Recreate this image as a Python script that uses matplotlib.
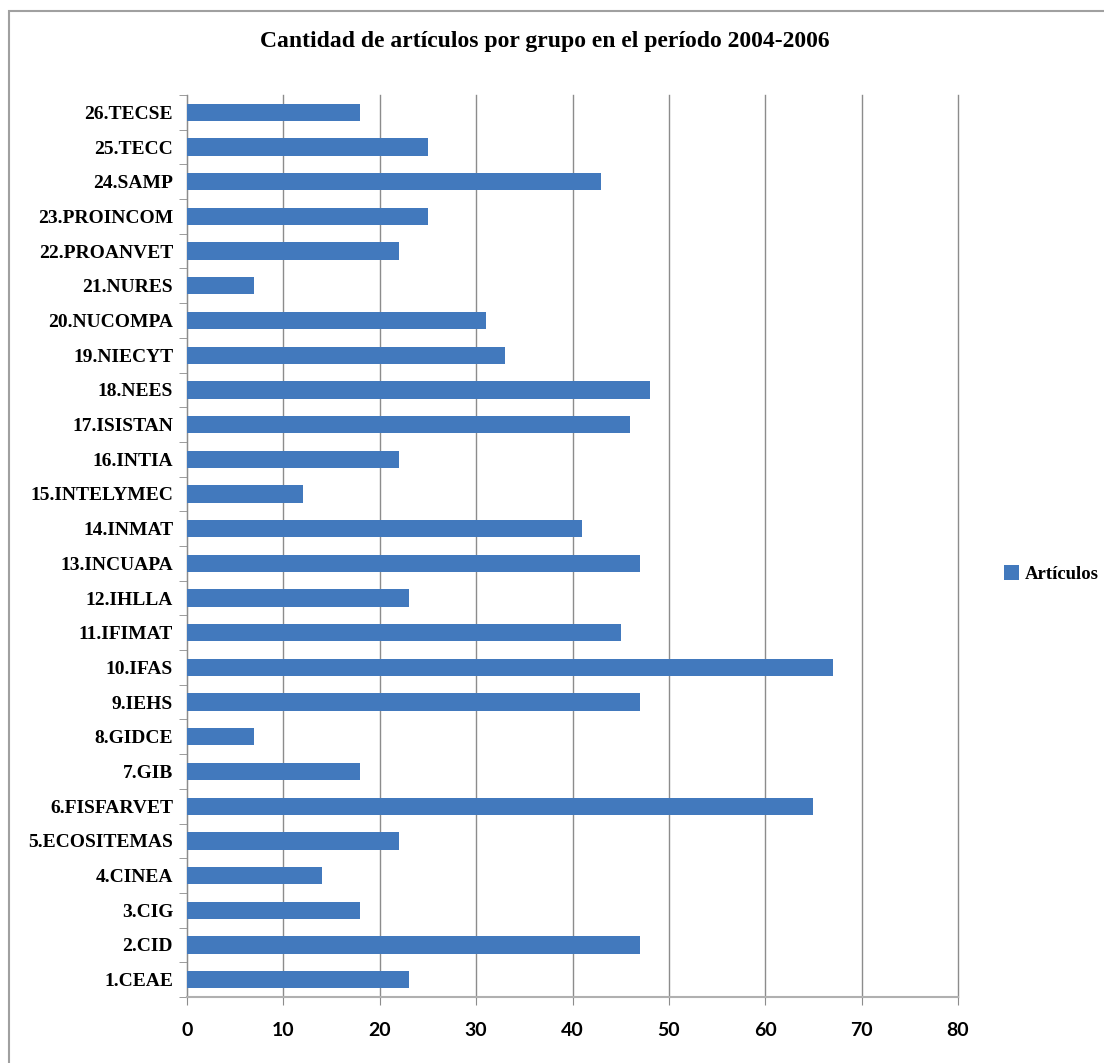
import matplotlib as mpl
mpl.use('Agg')
import matplotlib.pyplot as plt
from matplotlib.patches import Rectangle
import numpy as np

grupos = ["1.CEAE", "2.CID", "3.CIG", "4.CINEA", "5.ECOSITEMAS", "6.FISFARVET",
          "7.GIB", "8.GIDCE", "9.IEHS", "10.IFAS", "11.IFIMAT", "12.IHLLA",
          "13.INCUAPA", "14.INMAT", "15.INTELYMEC", "16.INTIA", "17.ISISTAN",
          "18.NEES", "19.NIECYT", "20.NUCOMPA", "21.NURES", "22.PROANVET",
          "23.PROINCOM", "24.SAMP", "25.TECC", "26.TECSE"]
articulos = [23, 47, 18, 14, 22, 65, 18, 7, 47, 67, 45, 23, 47, 41, 12, 22, 46,
             48, 33, 31, 7, 22, 25, 43, 25, 18]
xticks = [0, 10, 20, 30, 40, 50, 60, 70, 80]

W, H = 1104, 1063
fig = plt.figure(figsize=(W / 100, H / 100), dpi=100)
ax = fig.add_axes([187 / W, 1 - 997 / H, (958 - 187) / W, (997 - 95) / H])

serif = ['Liberation Serif', 'DejaVu Serif']
sans = ['Lato', 'DejaVu Sans']
grey = '#8c8c8c'

y = np.arange(len(grupos))
ax.barh(y, articulos, height=0.5, color='#4279bd', label='Artículos', zorder=3)

ax.set_xlim(0, 80)
ax.set_ylim(-0.5, len(grupos) - 0.5)
ax.set_xticks(xticks)
ax.set_xticklabels([str(t) for t in xticks], family=sans, fontweight='bold', fontsize=14)
ax.set_yticks(y)
ax.set_yticklabels(grupos, family=serif, fontweight='bold', fontsize=14)
ax.set_yticks(np.arange(-0.5, len(grupos), 1), minor=True)

ax.tick_params(axis='y', which='major', length=0, pad=10)
ax.tick_params(axis='y', which='minor', length=6, color=grey, direction='out')
ax.tick_params(axis='x', length=6, color=grey, direction='out', pad=12)

ax.grid(axis='x', color=grey, linewidth=1, zorder=0)
for gl in ax.get_xgridlines():
    gl.set_clip_on(False)
for s in ['top', 'right']:
    ax.spines[s].set_visible(False)
ax.spines['left'].set_color(grey)
ax.spines['bottom'].set_color('#b0b0b0')
ax.spines['bottom'].set_linewidth(1.5)

fig.text(545 / W, 1 - 42 / H, 'Cantidad de artículos por grupo en el período 2004-2006',
         family=serif, fontweight='bold', fontsize=17, ha='center', va='center')

fig.legend(loc='center left', bbox_to_anchor=(1004 / W, 1 - 574 / H), frameon=False,
           prop={'family': serif, 'weight': 'bold', 'size': 13.5},
           handlelength=0.8, handleheight=0.8, handletextpad=0.3,
           borderpad=0, borderaxespad=0)

fig.patches.append(Rectangle((9 / W, -0.1), 1.2, 1 - 11 / H + 0.1, transform=fig.transFigure,
                             fill=False, edgecolor='#a0a0a0', linewidth=1.5))

fig.savefig('out.png', dpi=100)
